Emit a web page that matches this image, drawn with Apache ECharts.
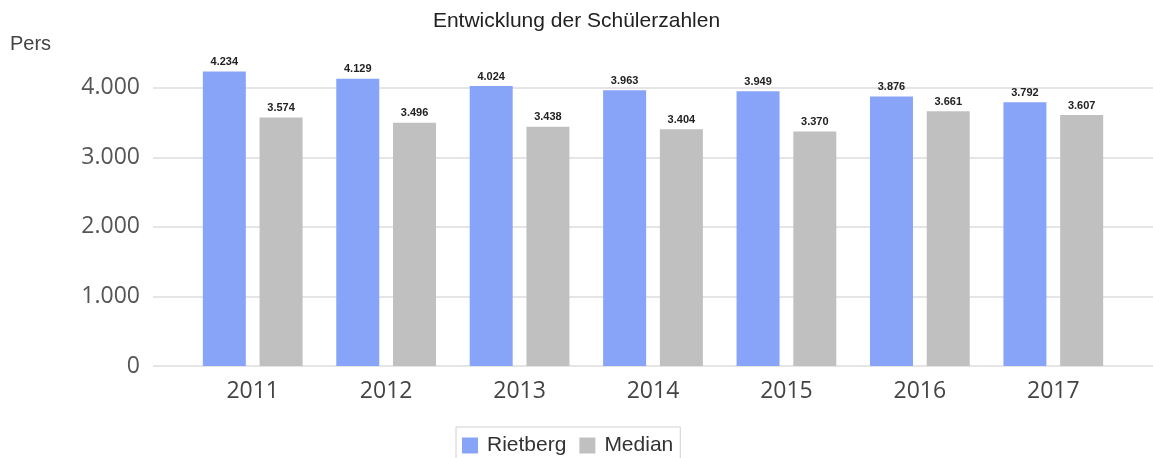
<!DOCTYPE html>
<html>
<head>
<meta charset="utf-8">
<script src="https://cdn.jsdelivr.net/npm/echarts@6/dist/echarts.min.js"></script>
<style>
  html, body { margin: 0; padding: 0; background: #fff; }
  #chart { width: 1153px; height: 458px; }
</style>
</head>
<body>
<div id="chart"></div>
<script>
// Daten
const years = ['2011', '2012', '2013', '2014', '2015', '2016', '2017']
const rietberg = [4234, 4129, 4024, 3963, 3949, 3876, 3792]
const median = [3574, 3496, 3438, 3404, 3370, 3661, 3607]

const fmt = v => String(v).replace(/\B(?=(\d{3})+(?!\d))/g, '.')
const font = '"Liberation Sans", Arial, sans-serif'
const axisFont = '"Open Sans", sans-serif'

const chart = echarts.init(document.getElementById('chart'))

const labelStyle = {
  show: true,
  position: 'top',
  distance: 4,
  fontFamily: font,
  fontSize: 11,
  fontWeight: 'bold',
  color: '#222',
  formatter: p => fmt(p.value),
}

chart.setOption({
  animation: false,
  textStyle: { fontFamily: font },
  title: {
    text: 'Entwicklung der Schülerzahlen',
    left: 'center',
    top: 6,
    textStyle: { fontFamily: font, fontSize: 21, fontWeight: 'normal', color: '#222' },
  },
  legend: {
    bottom: -12,
    left: 456,
    itemWidth: 16,
    itemHeight: 16,
    itemGap: 13,
    padding: [8, 7, 14, 6],
    borderColor: '#d0d0d0',
    borderWidth: 1,
    icon: 'rect',
    textStyle: { fontFamily: font, fontSize: 21, color: '#333', padding: [0, 0, 0, 4] },
    data: ['Rietberg', 'Median'],
  },
  grid: [
    { left: 186, right: 33, top: 53, bottom: 92 },
    // nur für die Gitterlinien über die volle Breite
    { left: 153, right: 0, top: 53, bottom: 92 },
  ],
  xAxis: [
    {
      type: 'category',
      gridIndex: 0,
      data: years,
      axisLine: { show: false },
      axisTick: { show: false },
      axisLabel: { fontFamily: axisFont, fontSize: 23, color: '#444', margin: 14 },
    },
    { type: 'value', gridIndex: 1, show: false, min: 0, max: 1 },
  ],
  yAxis: [
    {
      type: 'value',
      gridIndex: 0,
      name: 'Pers',
      nameLocation: 'end',
      nameGap: 0,
      nameTextStyle: { fontFamily: font, fontSize: 20, color: '#444', align: 'left', padding: [0, 0, -1, -176], verticalAlign: 'bottom' },
      min: 0,
      max: 4500,
      interval: 1000,
      axisLine: { show: false },
      axisTick: { show: false },
      splitLine: { show: false },
      axisLabel: {
        fontFamily: axisFont,
        fontSize: 23,
        color: '#555',
        margin: 46,
        showMaxLabel: false,
        formatter: v => (v % 1000 === 0 ? fmt(v) : ''),
      },
    },
    {
      type: 'value',
      gridIndex: 1,
      min: 0,
      max: 4500,
      interval: 1000,
      axisLine: { show: false },
      axisTick: { show: false },
      axisLabel: { show: false },
      splitLine: { show: true, showMaxLine: false, lineStyle: { color: '#dcdcdc', width: 1.5 } },
    },
  ],
  series: [
    {
      name: 'Rietberg',
      type: 'bar',
      xAxisIndex: 0,
      yAxisIndex: 0,
      data: rietberg,
      barWidth: 43,
      barGap: '32%',
      itemStyle: { color: '#88a4f8' },
      label: labelStyle,
    },
    {
      name: 'Median',
      type: 'bar',
      xAxisIndex: 0,
      yAxisIndex: 0,
      data: median,
      barWidth: 43,
      itemStyle: { color: '#c0c0c0' },
      label: labelStyle,
    },
  ],
})
</script>
</body>
</html>
